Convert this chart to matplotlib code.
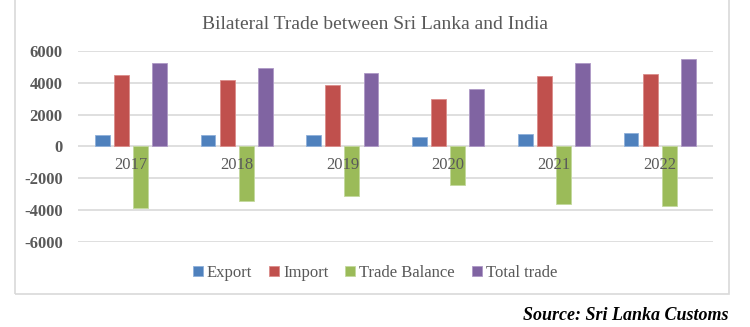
## bilateral trade chart, Sri Lanka - India
import numpy as np
import matplotlib
matplotlib.use('Agg')
import matplotlib.pyplot as plt
from matplotlib.patches import Rectangle

years = ['2017', '2018', '2019', '2020', '2021', '2022']
export = [690, 735, 735, 585, 800, 840]
imports = [4480, 4170, 3820, 3000, 4400, 4570]
balance = [-3840, -3440, -3100, -2410, -3630, -3750]
total = [5200, 4925, 4590, 3600, 5240, 5450]
series_names = ['Export', 'Import', 'Trade Balance', 'Total trade']
colors = ['#4F81BD', '#C0504D', '#9BBB59', '#8064A2']
edges = ['#8FB0DA', '#DB8C8A', '#C3D99D', '#AE98C6']

plt.rcParams['font.family'] = 'Liberation Serif'
plt.rcParams['axes.unicode_minus'] = False
grey = '#595959'

fig = plt.figure(figsize=(7.5, 3.27), dpi=100)
ax = fig.add_axes([0.104, 0.259, 0.846, 0.586])

x = np.arange(len(years))
w = 0.14
offs = [-0.27, -0.09, 0.09, 0.27]
for i, vals in enumerate([export, imports, balance, total]):
    ax.bar(x + offs[i], vals, w, color=colors[i], edgecolor=edges[i],
           linewidth=0.6, label=series_names[i], zorder=3)

for i, yr in enumerate(years):
    ax.text(x[i], -1190, yr, ha='center', va='center', fontsize=12,
            color=grey, zorder=4)

ax.set_xlim(-0.5, len(years) - 0.5)
ax.set_ylim(-6000, 6000)
ax.set_yticks(range(-6000, 6001, 2000))
ax.set_xticks([])
ax.tick_params(axis='y', length=0, labelsize=12, labelcolor=grey, pad=11)
for lb in ax.get_yticklabels():
    lb.set_fontweight('bold')
ax.grid(axis='y', color='#D9D9D9', linewidth=1.2, zorder=0)
for s in ax.spines.values():
    s.set_visible(False)

fig.text(0.5, 0.925, 'Bilateral Trade between Sri Lanka and India',
         ha='center', va='center', fontsize=14, color=grey)

fig.legend(loc='center', bbox_to_anchor=(0.5, 0.166), ncol=4, frameon=False,
           fontsize=12, handlelength=0.6, handleheight=0.6,
           handletextpad=0.25, columnspacing=1.0, labelcolor=grey)

# chart border
fig.patches.append(Rectangle((0.02, 0.101), 0.952, 0.95, transform=fig.transFigure,
                             fill=False, edgecolor='#D9D9D9', linewidth=1.2))

fig.text(0.971, 0.035, 'Source: Sri Lanka Customs', ha='right', va='center',
         fontsize=13, fontweight='bold', fontstyle='italic', color='black')

plt.savefig('out.png', dpi=100)
